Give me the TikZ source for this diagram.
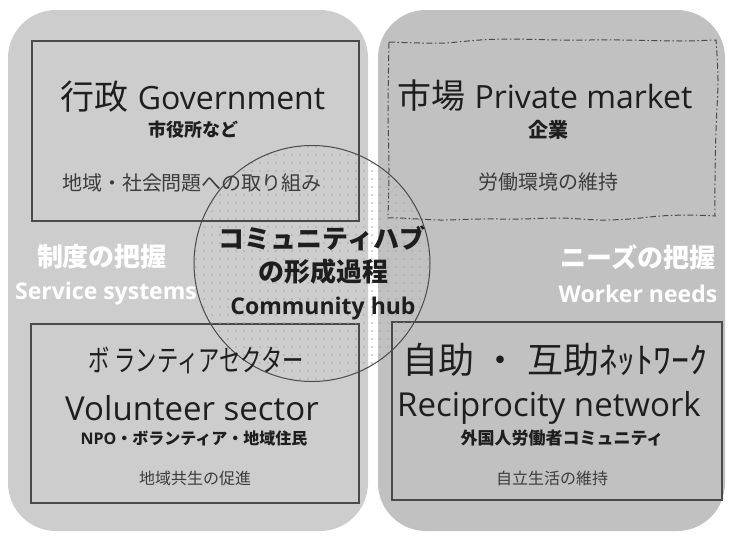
\documentclass[tikz,border=0pt]{standalone}
\usepackage{fontspec}
\setmainfont{Open Sans}
\newfontfamily\jp{Noto Sans CJK JP}
\definecolor{leftgray}{HTML}{CDCDCD}
\definecolor{rightgray}{HTML}{C1C1C1}
\definecolor{boxline}{HTML}{4A4A4A}
\definecolor{dotc}{HTML}{A6A6A6}
\definecolor{ink}{HTML}{1E1E1E}
\definecolor{subink}{HTML}{3C3C3C}
\newcommand{\fsz}[1]{\fontsize{#1}{#1}\selectfont}
\tikzset{
  panelbox/.style={draw=boxline, line width=1.2pt, inner sep=0pt},
  txt/.style={text=ink, inner sep=0pt, anchor=center},
  wht/.style={text=white, inner sep=0pt},
  dashdotline/.style={draw=boxline, line width=1pt, dash pattern=on 6pt off 2.5pt on 1.5pt off 2.5pt}
}
\begin{document}
\begin{tikzpicture}[x=1pt,y=-1pt]
\useasboundingbox (0,0) rectangle (729,536);
\fill[white] (0,0) rectangle (729,536);
% panels
\fill[leftgray, rounded corners=48pt] (8,10) rectangle (368,531);
\fill[rightgray, rounded corners=48pt] (378,10) rectangle (725,531);
% boxes
\node[panelbox, minimum width=327pt, minimum height=180pt] (govbox) at (195.5,131) {};
\node[panelbox, minimum width=328pt, minimum height=179pt] (volbox) at (195,413.5) {};
\node[panelbox, minimum width=330pt, minimum height=178pt] (recbox) at (557,411) {};
% wavy dash-dot box
\draw[dashdotline]
  plot[smooth, tension=0.5] coordinates {(389,42) (420,43) (445,43) (480,40) (510,39) (560,40) (620,40) (680,41) (716,40)}
  -- plot[smooth, tension=0.5] coordinates {(716,40) (718,80) (716,130) (715,180) (715,216)}
  -- plot[smooth, tension=0.5] coordinates {(715,216) (690,215) (660,216) (630,219) (600,220) (560,218) (520,219) (480,219) (440,220) (400,218) (388,218)}
  -- plot[smooth, tension=0.5] coordinates {(388,218) (389,170) (388,110) (389,42)};
% hub dots
\begin{scope}
  \clip (312,263.5) circle (118pt);
  \foreach \i in {0,...,30}{
    \foreach \j in {0,...,30}{
      \fill[dotc] (196+\i*8,147+\j*8) circle (0.9pt);
    }
  }
\end{scope}
\node[circle, draw=boxline, line width=1pt, minimum size=236pt, inner sep=0pt] (hub) at (312,263.5) {};
% Government
\node[txt] (govt) at (193,97) {{\fsz{34}\jp 行政}\hspace{9pt}{\fsz{32}Government}};
\node[txt] (govs) at (193,130) {\fsz{18}\jp\bfseries 市役所など};
\node[txt, text=subink] (govd) at (192,183) {\fsz{20}\jp 地域・社会問題への取り組み};
% Market
\node[txt] (mktt) at (545,96) {{\fsz{34}\jp 市場}\hspace{9pt}{\fsz{32}Private market}};
\node[txt] (mkts) at (548,130) {\fsz{20}\jp\bfseries 企業};
\node[txt, text=subink] (mktd) at (548,182) {\fsz{20}\jp 労働環境の維持};
% white labels
\node[wht] (sysjp) at (102,257) {\fsz{26}\jp\bfseries 制度の把握};
\node[wht] (sysen) at (106,294) {\fsz{23}\bfseries Service systems};
\node[wht] (needjp) at (638,257) {\fsz{26}\jp\bfseries ニーズの把握};
\node[wht] (needen) at (638,294) {\fsz{23}\bfseries Worker needs};
% hub text
\node[txt] (hub1) at (322,238) {\fsz{26}\jp\bfseries コミュニティハブ};
\node[txt] (hub2) at (323,272) {\fsz{26}\jp\bfseries の形成過程};
\node[txt] (hub3) at (323,309) {\fsz{23}\bfseries Community hub};
% Volunteer
\node[txt] (volj) at (196,360) {\fsz{30}\scalebox{0.71}[1]{\jp ボ ランティアセクター}};
\node[txt] (vole) at (192,408) {\fsz{33}Volunteer sector};
\node[txt] (vols) at (194,438) {\fsz{16}\bfseries NPO{\jp ・ボランティア・地域住民}};
\node[txt, text=subink] (vold) at (195,478) {\fsz{16}\jp 地域共生の促進};
% Reciprocity
\node[txt] (recj) at (555,360) {\fsz{36}\jp 自助 ・ 互助ﾈｯﾄﾜｰｸ};
\node[txt] (rece) at (549,408) {\fsz{33}Reciprocity network};
\node[txt] (recs) at (562,438) {\fsz{17}\jp\bfseries 外国人労働者コミュニティ};
\node[txt, text=subink] (recd) at (552,478) {\fsz{16}\jp 自立生活の維持};
\end{tikzpicture}
\end{document}
